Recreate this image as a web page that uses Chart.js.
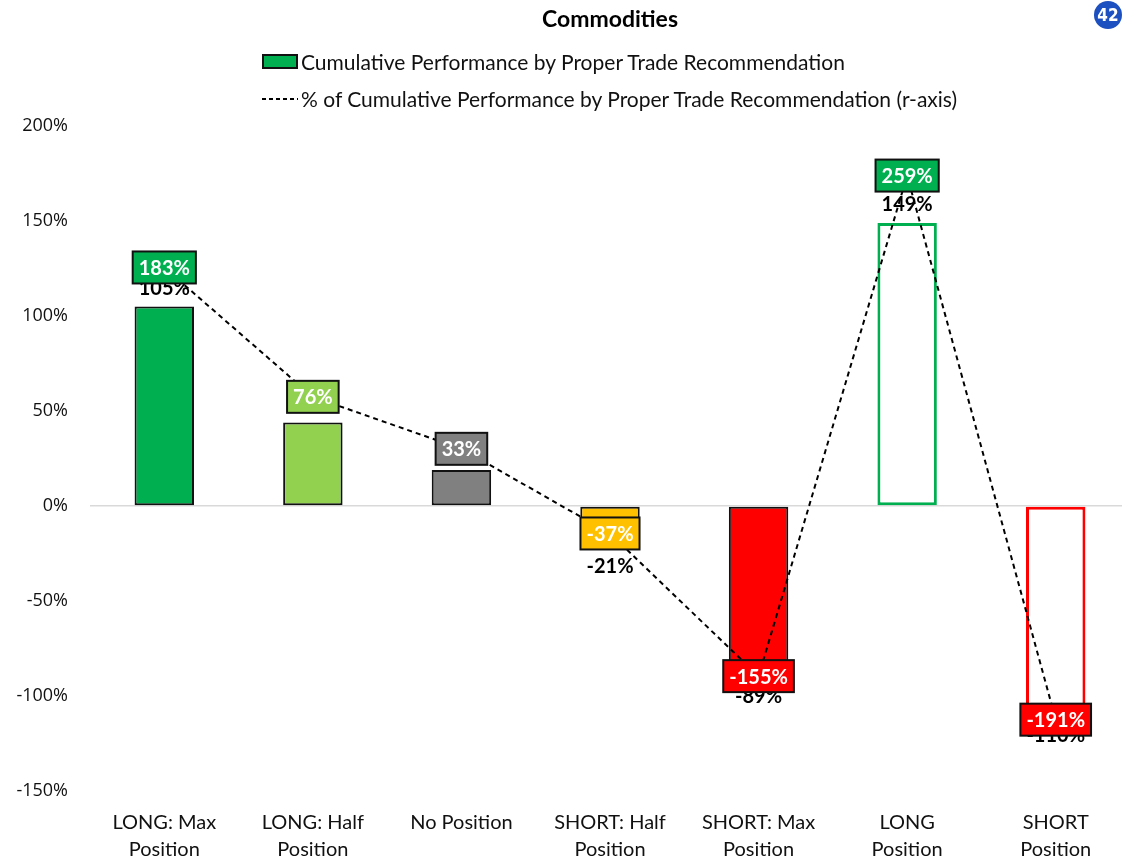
<!DOCTYPE html>
<html>
<head>
<meta charset="utf-8">
<script src="https://cdn.jsdelivr.net/npm/chart.js@4.4.1/dist/chart.umd.min.js"></script>
<style>
  body { margin: 0; overflow: hidden; background: #fff; font-family: Lato, sans-serif; }
  .wrap { position: relative; width: 1122px; height: 859px; overflow: hidden; }
  #perfChart { position: absolute; left: 0; top: 0; }
  .title { position: absolute; left: 410px; width: 400px; top: 4px; text-align: center; font-weight: bold; font-size: 23px; color: #000; }
  .legend { position: absolute; left: 262px; top: 43px; font-size: 21px; color: #111; }
  .legend .row { height: 37px; line-height: 30px; display: flex; align-items: center; white-space: nowrap; }
  .swatch { display: inline-block; width: 32px; height: 11px; background: #00B050; border: 2px solid #111; margin-right: 3px; }
  .legend svg { margin-right: 3px; }
  .badge { position: absolute; left: 1094px; top: 1px; width: 28px; height: 28px; border-radius: 50%; background: #1C4FC0; color: #fff; font-weight: bold; font-size: 17px; line-height: 28px; text-align: center; font-family: "Liberation Sans Narrow", "DejaVu Sans Condensed", sans-serif; }
</style>
</head>
<body>
<div class="wrap">
  <canvas id="perfChart" width="1130" height="859"></canvas>
  <div class="title">Commodities</div>
  <div class="legend">
    <div class="row"><span class="swatch"></span>Cumulative Performance by Proper Trade Recommendation</div>
    <div class="row"><svg width="36" height="6"><line x1="0" y1="3" x2="36" y2="3" stroke="#000" stroke-width="2" stroke-dasharray="4,3"/></svg>% of Cumulative Performance by Proper Trade Recommendation (r-axis)</div>
  </div>
  <div class="badge">42</div>
</div>
<script>
const categories = [
  ['LONG: Max', 'Position'],
  ['LONG: Half', 'Position'],
  'No Position',
  ['SHORT: Half', 'Position'],
  ['SHORT: Max', 'Position'],
  ['LONG', 'Position'],
  ['SHORT', 'Position']
];
// cumulative performance (left axis)
const barValues = [105, 44, 19, -21, -89, 149, -110];
// % of cumulative performance (right axis, hidden)
const lineValues = [183, 76, 33, -37, -155, 259, -191];

const barFills = ['#00B050', '#92D050', '#808080', '#FFC000', '#FF0000', '#FFFFFF', '#FFFFFF'];
const barEdges = ['#111111', '#111111', '#111111', '#111111', '#111111', '#00B050', '#FF0000'];
const barEdgeWidths = [2, 2, 2, 2, 2, 3, 3];
const boxFills = ['#00B050', '#92D050', '#808080', '#FFC000', '#FF0000', '#00B050', '#FF0000'];

const leftMin = -150, leftMax = 200, leftStep = 50;
const rightMin = -250, rightMax = 300;

const ctx = document.getElementById('perfChart').getContext('2d');

const valueLabels = {
  id: 'valueLabels',
  // bar values sit under the dashed line
  afterDatasetDraw(chart, args) {
    if (args.index !== 0) return;
    const c = chart.ctx;
    c.save();
    c.font = 'bold 20px Lato';
    c.fillStyle = '#000';
    c.textAlign = 'center';
    c.textBaseline = 'middle';
    args.meta.data.forEach((bar, i) => {
      const v = barValues[i];
      const y = v >= 0 ? bar.y - 18 : bar.y + 21;
      c.fillText(v + '%', bar.x, y);
    });
    c.restore();
  },
  // boxed labels for the line points go on top of everything
  afterDatasetsDraw(chart) {
    const c = chart.ctx;
    const meta = chart.getDatasetMeta(1);
    c.save();
    c.font = 'bold 20px Lato';
    c.textAlign = 'center';
    c.textBaseline = 'middle';
    meta.data.forEach((pt, i) => {
      const txt = lineValues[i] + '%';
      const w = c.measureText(txt).width + 12;
      const h = 32;
      c.fillStyle = boxFills[i];
      c.fillRect(pt.x - w / 2, pt.y - h / 2, w, h);
      c.lineWidth = 2;
      c.strokeStyle = '#111';
      c.strokeRect(pt.x - w / 2, pt.y - h / 2, w, h);
      c.fillStyle = '#fff';
      c.fillText(txt, pt.x, pt.y + 1);
    });
    c.restore();
  }
};

new Chart(ctx, {
  type: 'bar',
  data: {
    labels: categories,
    datasets: [{
      type: 'bar',
      label: 'Cumulative Performance by Proper Trade Recommendation',
      data: barValues,
      backgroundColor: barFills,
      borderColor: barEdges,
      borderWidth: barEdgeWidths,
      borderSkipped: false,
      barPercentage: 0.5,
      categoryPercentage: 0.8,
      yAxisID: 'y',
      order: 2
    }, {
      type: 'line',
      label: '% of Cumulative Performance by Proper Trade Recommendation (r-axis)',
      data: lineValues,
      borderColor: '#000',
      borderWidth: 2,
      borderDash: [5, 4],
      pointRadius: 0,
      tension: 0,
      fill: false,
      yAxisID: 'y2',
      order: 1
    }]
  },
  options: {
    responsive: false,
    animation: false,
    layout: { padding: { top: 126, left: 0, right: 0, bottom: 0 } },
    plugins: {
      legend: { display: false },
      title: { display: false },
      tooltip: { enabled: false }
    },
    scales: {
      x: {
        offset: true,
        grid: { display: false },
        border: { display: false },
        ticks: {
          color: '#111',
          font: { family: 'Lato', size: 20, lineHeight: 1.35 },
          padding: 10,
          maxRotation: 0,
          autoSkip: false
        },
        afterFit(scale) { scale.height = 68; }
      },
      y: {
        position: 'left',
        min: leftMin,
        max: leftMax,
        ticks: {
          stepSize: leftStep,
          color: '#111',
          font: { family: 'Open Sans', size: 18 },
          padding: 22,
          callback: v => v + '%'
        },
        grid: {
          drawTicks: false,
          lineWidth: 1.5,
          color: c => c.tick && c.tick.value === 0 ? '#d9d9d9' : 'rgba(0,0,0,0)'
        },
        border: { display: false },
        afterFit(scale) { scale.width = 90; }
      },
      y2: {
        position: 'right',
        display: false,
        min: rightMin,
        max: rightMax
      }
    }
  },
  plugins: [valueLabels]
});
</script>
</body>
</html>
